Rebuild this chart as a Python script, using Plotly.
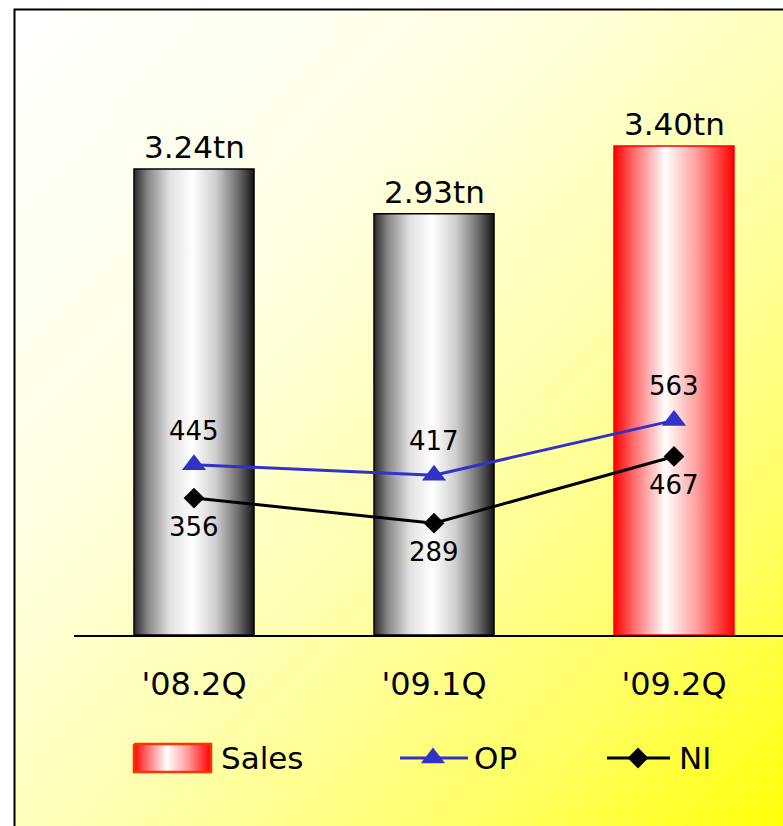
import base64
import plotly.graph_objects as go

# Quarterly results: sales (trillion) and operating / net income (billion)
CATEGORIES = ["'08.2Q", "'09.1Q", "'09.2Q"]
SALES = [3.24, 2.93, 3.40]
OP = [445, 417, 563]
NI = [356, 289, 467]
SERIES = ["Sales", "OP", "NI"]

W, H = 783, 826
FONT = "DejaVu Sans"
BLUE = "#3232C8"
BAR_HALF = 0.25

GRAY_SCALE = [[0, "#2a2a2a"], [0.12, "#8a8a8a"], [0.3, "#e2e2e2"], [0.49, "#ffffff"],
              [0.68, "#cfcfcf"], [0.87, "#6c6c6c"], [1, "#151515"]]
RED_SCALE = [[0, "#ff0000"], [0.15, "#ff6262"], [0.43, "#ffffff"], [0.7, "#ff9a9a"], [1, "#ff0000"]]

fig = go.Figure()

# Cylinder-style sales bars (filled polygons with a horizontal gradient)
for i, v in enumerate(SALES):
    latest = i == len(SALES) - 1
    fig.add_trace(go.Scatter(
        x=[i - BAR_HALF, i - BAR_HALF, i + BAR_HALF, i + BAR_HALF, i - BAR_HALF],
        y=[0, v, v, 0, 0],
        mode="lines", fill="toself",
        fillgradient=dict(type="horizontal", colorscale=RED_SCALE if latest else GRAY_SCALE),
        line=dict(color="#ff0000" if latest else "#000000", width=1.5),
        showlegend=False, hoverinfo="skip",
    ))

x_idx = list(range(len(CATEGORIES)))

fig.add_trace(go.Scatter(
    x=x_idx, y=OP, yaxis="y2", mode="lines+markers", name=SERIES[1],
    line=dict(color=BLUE, width=3),
    marker=dict(symbol="triangle-up", size=21, color=BLUE),
    showlegend=False,
))
fig.add_trace(go.Scatter(
    x=x_idx, y=NI, yaxis="y2", mode="lines+markers", name=SERIES[2],
    line=dict(color="#000000", width=3),
    marker=dict(symbol="diamond", size=16, color="#000000"),
    showlegend=False,
))

annotations = []
for i, v in enumerate(SALES):
    annotations.append(dict(x=i, y=v, xref="x", yref="y", text=f"{v:.2f}tn",
                            showarrow=False, yshift=22,
                            font=dict(family=FONT, size=31, color="#000")))
for i, v in enumerate(OP):
    annotations.append(dict(x=i, y=v, xref="x", yref="y2", text=str(v),
                            showarrow=False, yshift=34,
                            font=dict(family=FONT, size=26, color="#000")))
for i, v in enumerate(NI):
    annotations.append(dict(x=i, y=v, xref="x", yref="y2", text=str(v),
                            showarrow=False, yshift=-29,
                            font=dict(family=FONT, size=26, color="#000")))

# Legend keys, drawn on a hidden pixel-unit axis pair spanning the figure
LEG_Y = 758
fig.add_trace(go.Scatter(
    x=[134, 134, 211, 211, 134], y=[744, 772, 772, 744, 744],
    xaxis="x2", yaxis="y3", mode="lines", fill="toself",
    fillgradient=dict(type="horizontal", colorscale=RED_SCALE),
    line=dict(color="#ff3300", width=2.5), showlegend=False, hoverinfo="skip",
))
fig.add_trace(go.Scatter(
    x=[400, 468], y=[LEG_Y, LEG_Y], xaxis="x2", yaxis="y3", mode="lines",
    line=dict(color=BLUE, width=3), showlegend=False, hoverinfo="skip",
))
fig.add_trace(go.Scatter(
    x=[433], y=[LEG_Y], xaxis="x2", yaxis="y3", mode="markers",
    marker=dict(symbol="triangle-up", size=21, color=BLUE), showlegend=False, hoverinfo="skip",
))
fig.add_trace(go.Scatter(
    x=[607, 670], y=[LEG_Y, LEG_Y], xaxis="x2", yaxis="y3", mode="lines",
    line=dict(color="#000000", width=3), showlegend=False, hoverinfo="skip",
))
fig.add_trace(go.Scatter(
    x=[638], y=[LEG_Y], xaxis="x2", yaxis="y3", mode="markers",
    marker=dict(symbol="diamond", size=16, color="#000000"), showlegend=False, hoverinfo="skip",
))
for name, x0 in zip(SERIES, [219, 472, 677]):
    annotations.append(dict(x=x0, y=LEG_Y, xref="x2", yref="y3", text=name,
                            xanchor="left", yanchor="middle", showarrow=False,
                            font=dict(family=FONT, size=31, color="#000")))

# Framed panel with a diagonal white-to-yellow gradient
svg = (
    f'<svg xmlns="http://www.w3.org/2000/svg" width="{W}" height="{H}" '
    f'viewBox="0 0 {W} {H}" preserveAspectRatio="none">'
    '<defs><linearGradient id="g" x1="0" y1="0" x2="1" y2="1">'
    '<stop offset="0" stop-color="#FFFFFF"/>'
    '<stop offset="0.3" stop-color="#FFFFE6"/>'
    '<stop offset="0.55" stop-color="#FFFFB0"/>'
    '<stop offset="0.8" stop-color="#FFFF60"/>'
    '<stop offset="1" stop-color="#FFFF00"/>'
    '</linearGradient></defs>'
    f'<rect x="0" y="0" width="{W}" height="{H}" fill="#FFFFFF"/>'
    '<rect x="14.5" y="9.5" width="790" height="830" fill="url(#g)" stroke="#000000" stroke-width="2"/>'
    '</svg>'
)
bg_src = "data:image/svg+xml;base64," + base64.b64encode(svg.encode()).decode()

plot_top, plot_bottom, plot_left = 10, 635, 74

fig.update_layout(
    width=W, height=H,
    margin=dict(l=0, r=0, t=0, b=0),
    paper_bgcolor="#FFFFFF", plot_bgcolor="rgba(0,0,0,0)",
    showlegend=False,
    images=[dict(source=bg_src, xref="paper", yref="paper", x=0, y=1,
                 sizex=1, sizey=1, xanchor="left", yanchor="top",
                 sizing="stretch", layer="below")],
    xaxis=dict(domain=[plot_left / W, 1], range=[-0.5, -0.5 + (W - plot_left) / 240],
               tickvals=x_idx, ticktext=CATEGORIES, ticks="", showgrid=False,
               zeroline=False, showline=True, linecolor="#000", linewidth=2,
               tickfont=dict(family=FONT, size=32, color="#000"),
               ticklabelstandoff=20, automargin=False, fixedrange=True),
    yaxis=dict(domain=[(H - plot_bottom) / H, (H - plot_top) / H],
               range=[0, 4.346], visible=False, fixedrange=True),
    yaxis2=dict(overlaying="y", range=[-9, 1657], visible=False, fixedrange=True),
    xaxis2=dict(domain=[0, 1], range=[0, W], anchor="y3", visible=False, fixedrange=True),
    yaxis3=dict(domain=[0, 1], range=[H, 0], anchor="x2", visible=False, fixedrange=True),
    annotations=annotations,
)

fig.write_html("out.html")
